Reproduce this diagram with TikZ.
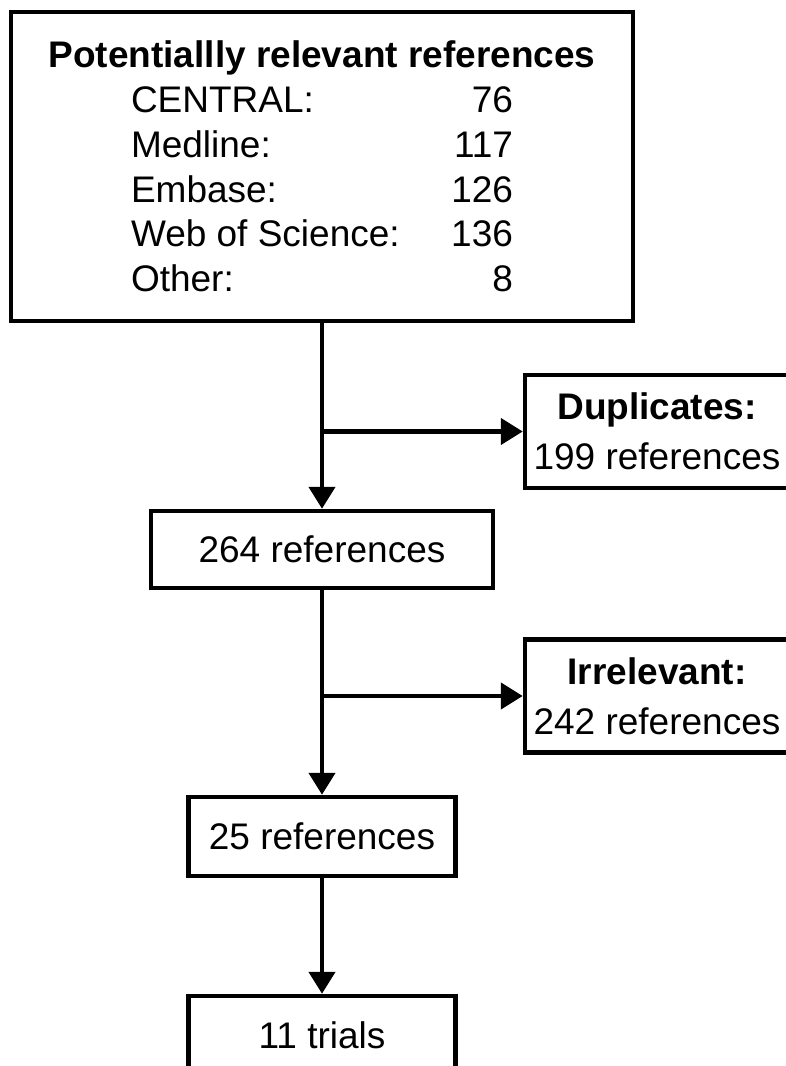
\documentclass[tikz,border=0pt]{standalone}
\usepackage{fontspec}
\setmainfont{Liberation Sans}
\usetikzlibrary{arrows.meta}

\begin{document}
\begin{tikzpicture}[x=1pt,y=-1pt,
 box/.style={draw,line width=4.5pt,inner sep=0pt,align=center,font=\fontsize{37}{44.8}\selectfont},
 side/.style={box,minimum width=264,minimum height=113,font=\fontsize{37}{50}\selectfont},
 flow/.style={line width=4.5pt,-{Triangle[width=26pt,length=22pt]}}]
 \useasboundingbox (0,0) rectangle (786,1066);
 \node[box,minimum width=622,minimum height=309] (pot) at (322,166.5) {\textbf{Potentiallly relevant references}\\
  \makebox[382pt]{CENTRAL:\hfill 76}\\ \makebox[382pt]{Medline:\hfill 117}\\ \makebox[382pt]{Embase:\hfill 126}\\
  \makebox[382pt]{Web of Science:\hfill 136}\\ \makebox[382pt]{Other:\hfill 8}};
 \node[side] (dup) at (657,431.5) {\textbf{Duplicates:}\\199 references};
 \node[box,minimum width=342,minimum height=77] (r264) at (322,549.5) {264 references};
 \node[side] (irr) at (657,696) {\textbf{Irrelevant:}\\242 references};
 \node[box,minimum width=267,minimum height=79] (r25) at (322,836.5) {25 references};
 \node[box,minimum width=267,minimum height=79] (trials) at (322,1035.5) {11 trials};
 \draw[flow] (pot.south) -- (r264.north);
 \draw[flow] (pot.south |- dup.west) -- (dup.west);
 \draw[flow] (r264.south) -- (r25.north);
 \draw[flow] (r264.south |- irr.west) -- (irr.west);
 \draw[flow] (r25.south) -- (trials.north);
\end{tikzpicture}
\end{document}
